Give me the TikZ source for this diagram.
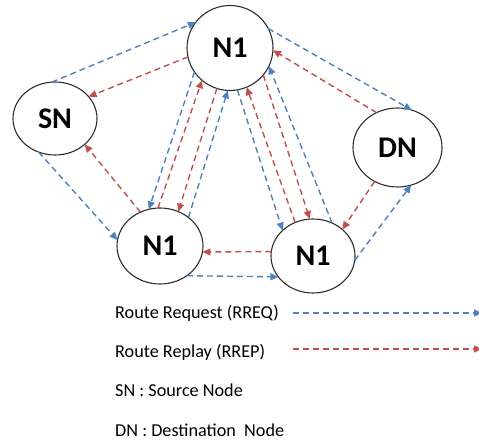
\documentclass[tikz,border=0pt]{standalone}
\usepackage{fontspec}
\setmainfont{Carlito}
\usetikzlibrary{arrows.meta,shapes.geometric}

\definecolor{reqblue}{RGB}{79,129,189}
\definecolor{repred}{RGB}{192,80,77}
\definecolor{rim}{RGB}{45,45,45}

\tikzset{
  station/.style={ellipse, draw=rim, line width=1.1pt, fill=white, inner sep=0pt,
    outer sep=0pt, font=\fontsize{30}{30}\selectfont\bfseries},
  msg/.style={line width=1.4pt, dash pattern=on 6pt off 4pt,
    -{Triangle[length=8pt,width=7pt]}, shorten >=0pt},
  req/.style={msg, reqblue},
  rep/.style={msg, repred},
  keytext/.style={anchor=base west, inner sep=0pt, font=\fontsize{18.2}{18.2}\selectfont}
}

\begin{document}
\begin{tikzpicture}[x=1pt,y=-1pt]
  \useasboundingbox (0,0) rectangle (479,441);

  % network nodes
  \node[station, minimum width=86pt, minimum height=85pt] (top) at (230,48) {N1};
  \node[station, minimum width=84pt, minimum height=73pt] (sn)  at (55,118.5) {SN};
  \node[station, minimum width=89pt, minimum height=79pt] (dn)  at (397.5,147.5) {DN};
  \node[station, minimum width=86pt, minimum height=76pt] (bl)  at (160,246) {N1};
  \node[station, minimum width=84pt, minimum height=74pt] (br)  at (313,256) {N1};

  % route requests
  \draw[req] (sn.95)   -- (top.143);
  \draw[req] (sn.244)  -- (bl.172);
  \draw[req] (top.214) -- (bl.107);
  \draw[req] (bl.45)   -- (top.267);
  \draw[req] (top.280) -- (br.140);
  \draw[req] (br.60)   -- (top.335);
  \draw[req] (top.27)  -- (dn.69);
  \draw[req] (br.354)  -- (dn.290);
  \draw[req] (bl.312)  -- (br.211);

  % route replies
  \draw[rep] (top.192) -- (sn.33);
  \draw[rep] (bl.120)  -- (sn.319);
  \draw[rep] (bl.93)   -- (top.229);
  \draw[rep] (top.252) -- (bl.62);
  \draw[rep] (br.118)  -- (top.293);
  \draw[rep] (top.321) -- (br.95);
  \draw[rep] (dn.121)  -- (top.357);
  \draw[rep] (dn.236)  -- (br.42);
  \draw[rep] (br.174)  -- (bl.352);

  % key
  \node[keytext] (kreq) at (115,318) {Route Request (RREQ)};
  \node[keytext] (krep) at (115,357.5) {Route Replay (RREP)};
  \node[keytext] (ksn)  at (115,396) {SN : Source Node};
  \node[keytext] (kdn)  at (115,436.5) {DN : Destination~ Node};

  \coordinate (reqA) at (293,313);
  \coordinate (reqB) at (482,313);
  \coordinate (repA) at (293,349);
  \coordinate (repB) at (482,349);
  \draw[req] (reqA) -- (reqB);
  \draw[rep] (repA) -- (repB);
\end{tikzpicture}
\end{document}
